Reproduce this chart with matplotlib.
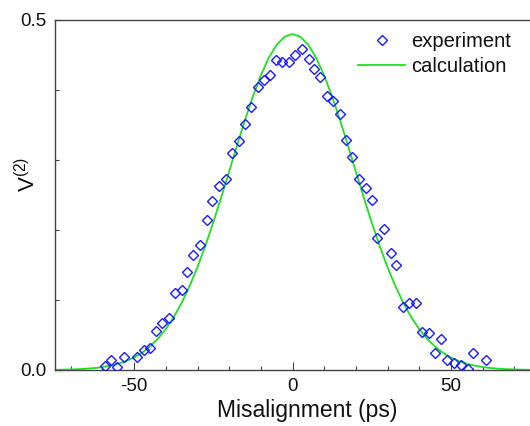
import matplotlib
matplotlib.use("Agg")
import matplotlib.pyplot as plt
from matplotlib.ticker import MultipleLocator, FixedLocator

plt.rcParams['font.family'] = ['Liberation Sans', 'DejaVu Sans']
plt.rcParams['mathtext.fontset'] = 'custom'
plt.rcParams['mathtext.rm'] = 'Liberation Sans'
plt.rcParams['mathtext.it'] = 'Liberation Sans:italic'
plt.rcParams['axes.unicode_minus'] = False

# experimental data (misalignment in ps, visibility)
exp_x = [-59.2, -57.3, -55.3, -53.1, -49.1, -47.0, -45.0, -43.1, -41.2, -39.1,
         -37.1, -35.0, -33.2, -31.3, -29.1, -27.0, -25.3, -23.1, -21.0, -19.1,
         -17.0, -14.9, -13.1, -10.8, -8.9, -7.0, -5.2, -3.2, -1.0, 0.9,
         3.0, 5.1, 6.9, 8.7, 11.0, 12.9, 15.0, 16.9, 18.9, 21.1,
         23.2, 25.1, 26.8, 29.0, 31.1, 32.8, 35.0, 36.8, 39.0, 41.0,
         43.2, 45.0, 47.0, 48.9, 51.1, 53.2, 55.3, 57.1, 61.1]
exp_y = [0.006, 0.015, 0.004, 0.019, 0.018, 0.028, 0.032, 0.056, 0.067, 0.074,
         0.110, 0.115, 0.140, 0.164, 0.178, 0.215, 0.241, 0.263, 0.273, 0.310,
         0.327, 0.351, 0.376, 0.404, 0.414, 0.422, 0.443, 0.440, 0.440, 0.450,
         0.458, 0.444, 0.430, 0.419, 0.391, 0.385, 0.366, 0.328, 0.304, 0.273,
         0.260, 0.243, 0.188, 0.201, 0.167, 0.150, 0.090, 0.096, 0.096, 0.055,
         0.053, 0.025, 0.044, 0.014, 0.010, 0.007, 0.001, 0.025, 0.015]

# calculated curve (sampled every 2.5 ps)
calc_x = [-75.0, -72.5, -70.0, -67.5, -65.0, -62.5, -60.0, -57.5, -55.0, -52.5,
          -50.0, -47.5, -45.0, -42.5, -40.0, -37.5, -35.0, -32.5, -30.0, -27.5,
          -25.0, -22.5, -20.0, -17.5, -15.0, -12.5, -10.0, -7.5, -5.0, -2.5,
          0.0, 2.5, 5.0, 7.5, 10.0, 12.5, 15.0, 17.5, 20.0, 22.5,
          25.0, 27.5, 30.0, 32.5, 35.0, 37.5, 40.0, 42.5, 45.0, 47.5,
          50.0, 52.5, 55.0, 57.5, 60.0, 62.5, 65.0, 67.5, 70.0, 72.5, 75.0]
calc_y = [0.0003, 0.0005, 0.0008, 0.0012, 0.0019, 0.0028, 0.0042, 0.0062, 0.0090, 0.0128,
          0.0179, 0.0247, 0.0335, 0.0446, 0.0586, 0.0755, 0.0959, 0.1197, 0.1470, 0.1776,
          0.2110, 0.2467, 0.2837, 0.3209, 0.3571, 0.3909, 0.4209, 0.4458, 0.4645, 0.4760,
          0.4800, 0.4760, 0.4645, 0.4458, 0.4209, 0.3909, 0.3571, 0.3209, 0.2837, 0.2467,
          0.2110, 0.1776, 0.1470, 0.1197, 0.0959, 0.0755, 0.0586, 0.0446, 0.0335, 0.0247,
          0.0179, 0.0128, 0.0090, 0.0062, 0.0042, 0.0028, 0.0019, 0.0012, 0.0008, 0.0005, 0.0003]

x_major = [-50, 0, 50]
y_major = [0.0, 0.5]

W, H = 530, 426
fig = plt.figure(figsize=(W / 100, H / 100), dpi=100)
ax = fig.add_axes([55 / W, 1 - 370 / H, (530 - 55) / W, 350 / H])

ax.plot(exp_x, exp_y, linestyle='none', marker='D', markersize=4.8,
        markerfacecolor='none', markeredgecolor='#1a1aff', markeredgewidth=1.0,
        label='experiment', zorder=3)
ax.plot(calc_x, calc_y, color='#1fe01f', linewidth=1.3, label='calculation', zorder=2)

ax.set_xlim(-75, 75)
ax.set_ylim(0, 0.5)
ax.xaxis.set_major_locator(FixedLocator(x_major))
ax.xaxis.set_minor_locator(MultipleLocator(10))
ax.yaxis.set_major_locator(FixedLocator(y_major))
ax.yaxis.set_minor_locator(MultipleLocator(0.1))
ax.set_xticklabels([str(v) for v in x_major])
ax.set_yticklabels(['%.1f' % v for v in y_major])

for s in ['left', 'bottom', 'top']:
    ax.spines[s].set_color('#444444')
    ax.spines[s].set_linewidth(1.0)
ax.spines['right'].set_visible(False)

ax.tick_params(which='both', direction='in', top=False, right=False,
               color='#444444', width=0.8, labelsize=13.5, labelcolor='#111111')
ax.tick_params(axis='x', which='major', length=5.5, pad=6)
ax.tick_params(axis='x', which='minor', length=3)
ax.tick_params(axis='y', which='major', length=5, pad=6)
ax.tick_params(axis='y', which='minor', length=3)

fig.text(306.7 / W, 1 - 411 / H, 'Misalignment (ps)', ha='center', va='center',
         fontsize=16.5, color='#111111')
fig.text(28 / W, 1 - 174 / H, r'V$^{\mathrm{(2)}}$', ha='center', va='center',
         rotation=90, fontsize=16, color='#111111')

leg = ax.legend(loc='upper left', bbox_to_anchor=(358 / W, 1 - 32 / H),
                bbox_transform=fig.transFigure, frameon=False, fontsize=14.5,
                handlelength=2.35, handletextpad=0.3, borderpad=0, borderaxespad=0,
                labelspacing=0.3, numpoints=1)
for t in leg.get_texts():
    t.set_color('#111111')

fig.savefig('out.png', dpi=100)
